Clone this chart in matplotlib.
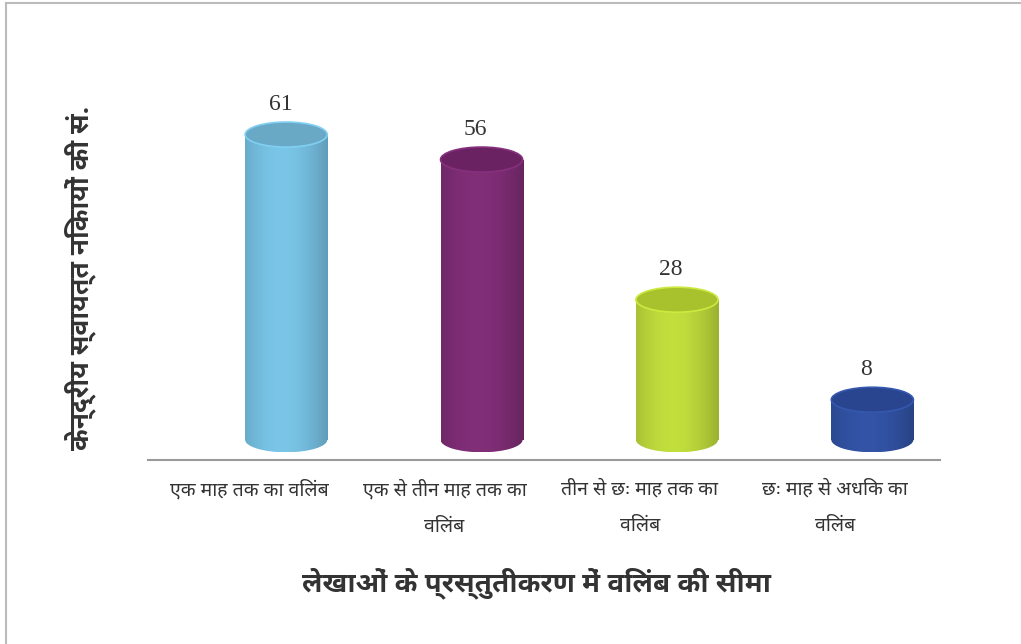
import numpy as np
import matplotlib
matplotlib.use("Agg")
import matplotlib.pyplot as plt
from matplotlib.patches import Rectangle, Ellipse
from matplotlib.colors import to_rgb

# data
categories = ["एक माह तक का विलंब", "एक से तीन माह तक का\nविलंब",
              "तीन से छः माह तक का\nविलंब", "छः माह से अधिक का\nविलंब"]
values = [61, 56, 28, 8]
colors = ["#74BCDD", "#7B2C72", "#B9D43A", "#30509F"]
top_colors = ["#6AA9C6", "#6A2262", "#A7C22C", "#2A4590"]

deva = ["Noto Sans Devanagari UI", "DejaVu Sans"]

fig = plt.figure(figsize=(10.21, 6.44), dpi=100)
ax = fig.add_axes([0.145, 0.286, 0.776, 0.575])

x = np.arange(len(values))
w = 0.42
cap = 5.0

grad = np.linspace(0, 1, 64)
shade = 0.8 + 0.25 * np.sin(np.pi * (0.15 + 0.8 * grad))

for xi, v, c, tc in zip(x, values, colors, top_colors):
    rgb = np.array(to_rgb(c))
    img = np.clip(rgb[None, None, :] * shade[None, :, None], 0, 1)
    body = Rectangle((xi - w / 2, 0), w, v, transform=ax.transData)
    bottom = Ellipse((xi, 0), w, cap, transform=ax.transData)
    for clip in (body, bottom):
        im = ax.imshow(img, extent=[xi - w / 2, xi + w / 2, -cap / 2, v],
                       aspect="auto", interpolation="bilinear", zorder=2)
        im.set_clip_path(clip)
    ax.add_patch(Ellipse((xi, v), w, cap, facecolor=tc,
                         edgecolor=np.clip(rgb * 1.1, 0, 1), lw=1.2, zorder=3))
    ax.text(xi - 0.03, v + cap / 2 + 1.4, str(v), ha="center", va="bottom",
            fontsize=17, family="Liberation Serif", color="#333333")

ax.set_xlim(-0.707, 3.348)
ax.set_ylim(-4, 70)
for s in ["top", "right", "left"]:
    ax.spines[s].set_visible(False)
ax.spines["bottom"].set_color("#9a9a9a")
ax.spines["bottom"].set_linewidth(1.5)
ax.set_yticks([])
ax.set_xticks(x - 0.19)
ax.set_xticklabels(categories, family=deva, fontsize=14, color="#333333",
                   linespacing=2.1, va="top")
ax.tick_params(axis="x", length=0, pad=14)

ax.set_xlabel("लेखाओं के प्रस्तुतीकरण में विलंब की सीमा", family=deva,
              fontsize=20, fontweight="bold", color="#333333")
ax.xaxis.set_label_coords(0.49, -0.29)
ax.set_ylabel("केन्द्रीय स्वायत्त निकायों की सं.", family=deva,
              fontsize=19, fontweight="bold", color="#333333")
ax.yaxis.set_label_coords(-0.066, 0.49)

# thin frame round the picture
fig.add_artist(plt.Line2D([0.006, 0.006], [0.0, 0.995], color="#bbbbbb", lw=1.5))
fig.add_artist(plt.Line2D([0.006, 1.0], [0.995, 0.995], color="#bbbbbb", lw=1.5))

fig.savefig("out.png", dpi=100)
